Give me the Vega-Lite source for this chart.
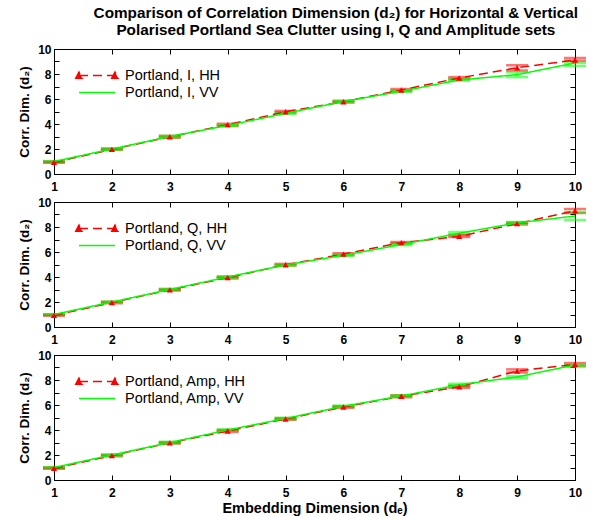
{
  "$schema": "https://vega.github.io/schema/vega-lite/v6.json",
  "padding": {"left": 17, "top": 6, "right": 2, "bottom": 2},
  "title": {
    "text": ["Comparison of Correlation Dimension (d₂) for Horizontal & Vertical", "Polarised Portland Sea Clutter using I, Q and Amplitude sets"],
    "font": "Liberation Sans", "fontSize": 15.3, "fontWeight": "bold", "anchor": "middle", "lineHeight": 17, "offset": 4, "dx": 34
  },
  "config": {
    "view": {"stroke": "black", "strokeWidth": 1},
    "scale": {"continuousPadding": 0},
    "axis": {"labelFont": "Liberation Sans", "labelFontWeight": "bold", "labelFontSize": 12, "labelColor": "black",
      "titleFont": "Liberation Sans", "titleFontWeight": "bold", "titleFontSize": 13.5, "titleColor": "black",
      "domainColor": "black", "tickColor": "black", "grid": false, "tickSize": -5, "labelPadding": 8, "labelFlush": false},
    "axisX": {"labelPadding": 12, "titleFontSize": 14.5, "labelFlush": false},
    "legend": {"labelFont": "Liberation Sans", "labelFontSize": 14.5, "labelColor": "black", "symbolSize": 361, "symbolStrokeWidth": 1.5, "rowPadding": 0, "labelOffset": 34}
  },
  "data": {"values": [
    {"set":"I","pol":"HH","x":1,"y":0.93,"lo":0.9,"hi":1.0},
    {"set":"I","pol":"HH","x":2,"y":1.97,"lo":1.93,"hi":2.03},
    {"set":"I","pol":"HH","x":3,"y":2.97,"lo":2.9,"hi":3.05},
    {"set":"I","pol":"HH","x":4,"y":3.95,"lo":3.85,"hi":4.02},
    {"set":"I","pol":"HH","x":5,"y":4.98,"lo":4.92,"hi":5.05},
    {"set":"I","pol":"HH","x":6,"y":5.78,"lo":5.72,"hi":5.85},
    {"set":"I","pol":"HH","x":7,"y":6.72,"lo":6.65,"hi":6.8},
    {"set":"I","pol":"HH","x":8,"y":7.68,"lo":7.6,"hi":7.75},
    {"set":"I","pol":"HH","x":9,"y":8.5,"lo":8.28,"hi":8.7},
    {"set":"I","pol":"HH","x":10,"y":9.12,"lo":9.05,"hi":9.28},
    {"set":"I","pol":"VV","x":1,"y":1.0,"lo":0.97,"hi":1.03},
    {"set":"I","pol":"VV","x":2,"y":2.0,"lo":1.95,"hi":2.03},
    {"set":"I","pol":"VV","x":3,"y":3.0,"lo":2.95,"hi":3.05},
    {"set":"I","pol":"VV","x":4,"y":3.88,"lo":3.83,"hi":3.93},
    {"set":"I","pol":"VV","x":5,"y":4.85,"lo":4.8,"hi":4.9},
    {"set":"I","pol":"VV","x":6,"y":5.8,"lo":5.75,"hi":5.85},
    {"set":"I","pol":"VV","x":7,"y":6.62,"lo":6.57,"hi":6.67},
    {"set":"I","pol":"VV","x":8,"y":7.52,"lo":7.47,"hi":7.57},
    {"set":"I","pol":"VV","x":9,"y":7.95,"lo":7.75,"hi":8.15},
    {"set":"I","pol":"VV","x":10,"y":8.88,"lo":8.65,"hi":8.9},
    {"set":"Q","pol":"HH","x":1,"y":0.93,"lo":0.9,"hi":1.0},
    {"set":"Q","pol":"HH","x":2,"y":1.95,"lo":1.9,"hi":2.02},
    {"set":"Q","pol":"HH","x":3,"y":2.97,"lo":2.92,"hi":3.03},
    {"set":"Q","pol":"HH","x":4,"y":3.95,"lo":3.88,"hi":4.02},
    {"set":"Q","pol":"HH","x":5,"y":4.98,"lo":4.92,"hi":5.05},
    {"set":"Q","pol":"HH","x":6,"y":5.83,"lo":5.75,"hi":5.9},
    {"set":"Q","pol":"HH","x":7,"y":6.75,"lo":6.7,"hi":6.8},
    {"set":"Q","pol":"HH","x":8,"y":7.25,"lo":7.2,"hi":7.35},
    {"set":"Q","pol":"HH","x":9,"y":8.27,"lo":8.2,"hi":8.35},
    {"set":"Q","pol":"HH","x":10,"y":9.3,"lo":9.12,"hi":9.44},
    {"set":"Q","pol":"VV","x":1,"y":1.0,"lo":0.97,"hi":1.03},
    {"set":"Q","pol":"VV","x":2,"y":2.0,"lo":1.95,"hi":2.03},
    {"set":"Q","pol":"VV","x":3,"y":3.0,"lo":2.95,"hi":3.05},
    {"set":"Q","pol":"VV","x":4,"y":4.0,"lo":3.95,"hi":4.05},
    {"set":"Q","pol":"VV","x":5,"y":4.97,"lo":4.92,"hi":5.02},
    {"set":"Q","pol":"VV","x":6,"y":5.73,"lo":5.68,"hi":5.78},
    {"set":"Q","pol":"VV","x":7,"y":6.6,"lo":6.55,"hi":6.65},
    {"set":"Q","pol":"VV","x":8,"y":7.5,"lo":7.42,"hi":7.6},
    {"set":"Q","pol":"VV","x":9,"y":8.33,"lo":8.27,"hi":8.4},
    {"set":"Q","pol":"VV","x":10,"y":8.88,"lo":8.56,"hi":9.2},
    {"set":"Amp","pol":"HH","x":1,"y":0.93,"lo":0.9,"hi":1.0},
    {"set":"Amp","pol":"HH","x":2,"y":1.95,"lo":1.9,"hi":2.02},
    {"set":"Amp","pol":"HH","x":3,"y":2.97,"lo":2.92,"hi":3.03},
    {"set":"Amp","pol":"HH","x":4,"y":3.92,"lo":3.85,"hi":4.0},
    {"set":"Amp","pol":"HH","x":5,"y":4.88,"lo":4.82,"hi":4.95},
    {"set":"Amp","pol":"HH","x":6,"y":5.84,"lo":5.78,"hi":5.9},
    {"set":"Amp","pol":"HH","x":7,"y":6.7,"lo":6.62,"hi":6.78},
    {"set":"Amp","pol":"HH","x":8,"y":7.45,"lo":7.38,"hi":7.52},
    {"set":"Amp","pol":"HH","x":9,"y":8.72,"lo":8.6,"hi":8.85},
    {"set":"Amp","pol":"HH","x":10,"y":9.25,"lo":9.15,"hi":9.35},
    {"set":"Amp","pol":"VV","x":1,"y":1.0,"lo":0.97,"hi":1.03},
    {"set":"Amp","pol":"VV","x":2,"y":2.0,"lo":1.95,"hi":2.03},
    {"set":"Amp","pol":"VV","x":3,"y":3.0,"lo":2.95,"hi":3.05},
    {"set":"Amp","pol":"VV","x":4,"y":4.0,"lo":3.95,"hi":4.05},
    {"set":"Amp","pol":"VV","x":5,"y":4.92,"lo":4.87,"hi":4.97},
    {"set":"Amp","pol":"VV","x":6,"y":5.9,"lo":5.85,"hi":5.95},
    {"set":"Amp","pol":"VV","x":7,"y":6.72,"lo":6.67,"hi":6.77},
    {"set":"Amp","pol":"VV","x":8,"y":7.62,"lo":7.55,"hi":7.7},
    {"set":"Amp","pol":"VV","x":9,"y":8.25,"lo":8.12,"hi":8.3},
    {"set":"Amp","pol":"VV","x":10,"y":9.2,"lo":9.05,"hi":9.25}
  ]},
  "transform": [{"calculate": "'Portland, ' + datum.set + ', ' + datum.pol", "as": "series"}],
  "spacing": 2,
  "resolve": {"scale": {"color": "independent", "strokeDash": "independent"}, "legend": {"color": "independent", "strokeDash": "independent"}},
  "vconcat": [
    {
      "width": 521, "height": 125,
      "transform": [{"filter": "datum.set == 'I'"}],
      "resolve": {"axis": {"x": "independent", "y": "independent"}},
      "layer": [
        {"mark": {"type": "rule", "strokeWidth": 1, "opacity": 0.6},
         "encoding": {"x": {"field": "x", "type": "quantitative", "scale": {"domain": [1, 10], "nice": false, "padding": 0},
             "axis": {"values": [1,2,3,4,5,6,7,8,9,10], "title": null, "format": "d"}},
           "y": {"field": "lo", "type": "quantitative", "scale": {"domain": [0, 10], "nice": false, "padding": 0},
             "axis": {"values": [0,1,2,3,4,5,6,7,8,9,10], "labelExpr": "datum.value % 2 == 0 ? datum.label : ''", "title": "Corr. Dim. (d₂)", "titlePadding": 6}},
           "y2": {"field": "hi"},
           "color": {"condition": {"test": "datum.pol == 'HH'", "value": "#ff0000"}, "value": "#00ff00"}}},
        {"mark": {"type": "tick", "orient": "horizontal", "size": 22, "thickness": 2.5, "opacity": 0.55},
         "encoding": {"x": {"field": "x", "type": "quantitative",
             "axis": {"orient": "top", "values": [1,2,3,4,5,6,7,8,9,10], "labels": false, "title": null, "domain": false}},
           "y": {"field": "lo", "type": "quantitative",
             "axis": {"orient": "right", "values": [0,1,2,3,4,5,6,7,8,9,10], "labels": false, "title": null, "domain": false}},
           "color": {"condition": {"test": "datum.pol == 'HH'", "value": "#ff0000"}, "value": "#00ff00"}}},
        {"mark": {"type": "tick", "orient": "horizontal", "size": 22, "thickness": 2.5, "opacity": 0.55},
         "encoding": {"x": {"field": "x", "type": "quantitative", "axis": null}, "y": {"field": "hi", "type": "quantitative", "axis": null},
           "color": {"condition": {"test": "datum.pol == 'HH'", "value": "#ff0000"}, "value": "#00ff00"}}},
        {"mark": {"type": "line", "strokeWidth": 1.5},
         "encoding": {"x": {"field": "x", "type": "quantitative", "axis": null}, "y": {"field": "y", "type": "quantitative", "axis": null},
           "color": {"field": "series", "type": "nominal", "scale": {"domain": ["Portland, I, HH", "Portland, I, VV"], "range": ["#ff0000", "#00ff00"]},
             "legend": {"title": null, "orient": "top-left", "offset": 16,
               "encode": {"symbols": {"update": {
                 "shape": {"signal": "datum.index == 0 ? 'M-0.16,0L3.63,0M-0.5,0.3L-0.16,-0.36L0.18,0.3ZM3.29,0.3L3.63,-0.36L3.97,0.3Z' : 'M-0.16,0L3.63,0'"},
                 "fill": {"signal": "datum.index == 0 ? '#ff0000' : 'transparent'"}}}}}},
           "strokeDash": {"field": "series", "type": "nominal", "scale": {"domain": ["Portland, I, HH", "Portland, I, VV"], "range": [[9, 5], [1, 0]]},
             "legend": {"title": null, "orient": "top-left", "offset": 16}}}},
        {"transform": [{"filter": "datum.pol == 'HH'"}],
         "mark": {"type": "point", "shape": "triangle-up", "filled": true, "color": "#ff0000", "size": 40, "opacity": 1},
         "encoding": {"x": {"field": "x", "type": "quantitative", "axis": null}, "y": {"field": "y", "type": "quantitative", "axis": null}}}
      ]
    },
    {
      "width": 521, "height": 125,
      "transform": [{"filter": "datum.set == 'Q'"}],
      "resolve": {"axis": {"x": "independent", "y": "independent"}},
      "layer": [
        {"mark": {"type": "rule", "strokeWidth": 1, "opacity": 0.6},
         "encoding": {"x": {"field": "x", "type": "quantitative", "scale": {"domain": [1, 10], "nice": false, "padding": 0},
             "axis": {"values": [1,2,3,4,5,6,7,8,9,10], "title": null, "format": "d"}},
           "y": {"field": "lo", "type": "quantitative", "scale": {"domain": [0, 10], "nice": false, "padding": 0},
             "axis": {"values": [0,1,2,3,4,5,6,7,8,9,10], "labelExpr": "datum.value % 2 == 0 ? datum.label : ''", "title": "Corr. Dim. (d₂)", "titlePadding": 6}},
           "y2": {"field": "hi"},
           "color": {"condition": {"test": "datum.pol == 'HH'", "value": "#ff0000"}, "value": "#00ff00"}}},
        {"mark": {"type": "tick", "orient": "horizontal", "size": 22, "thickness": 2.5, "opacity": 0.55},
         "encoding": {"x": {"field": "x", "type": "quantitative",
             "axis": {"orient": "top", "values": [1,2,3,4,5,6,7,8,9,10], "labels": false, "title": null, "domain": false}},
           "y": {"field": "lo", "type": "quantitative",
             "axis": {"orient": "right", "values": [0,1,2,3,4,5,6,7,8,9,10], "labels": false, "title": null, "domain": false}},
           "color": {"condition": {"test": "datum.pol == 'HH'", "value": "#ff0000"}, "value": "#00ff00"}}},
        {"mark": {"type": "tick", "orient": "horizontal", "size": 22, "thickness": 2.5, "opacity": 0.55},
         "encoding": {"x": {"field": "x", "type": "quantitative", "axis": null}, "y": {"field": "hi", "type": "quantitative", "axis": null},
           "color": {"condition": {"test": "datum.pol == 'HH'", "value": "#ff0000"}, "value": "#00ff00"}}},
        {"mark": {"type": "line", "strokeWidth": 1.5},
         "encoding": {"x": {"field": "x", "type": "quantitative", "axis": null}, "y": {"field": "y", "type": "quantitative", "axis": null},
           "color": {"field": "series", "type": "nominal", "scale": {"domain": ["Portland, Q, HH", "Portland, Q, VV"], "range": ["#ff0000", "#00ff00"]},
             "legend": {"title": null, "orient": "top-left", "offset": 16,
               "encode": {"symbols": {"update": {
                 "shape": {"signal": "datum.index == 0 ? 'M-0.16,0L3.63,0M-0.5,0.3L-0.16,-0.36L0.18,0.3ZM3.29,0.3L3.63,-0.36L3.97,0.3Z' : 'M-0.16,0L3.63,0'"},
                 "fill": {"signal": "datum.index == 0 ? '#ff0000' : 'transparent'"}}}}}},
           "strokeDash": {"field": "series", "type": "nominal", "scale": {"domain": ["Portland, Q, HH", "Portland, Q, VV"], "range": [[9, 5], [1, 0]]},
             "legend": {"title": null, "orient": "top-left", "offset": 16}}}},
        {"transform": [{"filter": "datum.pol == 'HH'"}],
         "mark": {"type": "point", "shape": "triangle-up", "filled": true, "color": "#ff0000", "size": 40, "opacity": 1},
         "encoding": {"x": {"field": "x", "type": "quantitative", "axis": null}, "y": {"field": "y", "type": "quantitative", "axis": null}}}
      ]
    },
    {
      "width": 521, "height": 125,
      "transform": [{"filter": "datum.set == 'Amp'"}],
      "resolve": {"axis": {"x": "independent", "y": "independent"}},
      "layer": [
        {"mark": {"type": "rule", "strokeWidth": 1, "opacity": 0.6},
         "encoding": {"x": {"field": "x", "type": "quantitative", "scale": {"domain": [1, 10], "nice": false, "padding": 0},
             "axis": {"values": [1,2,3,4,5,6,7,8,9,10], "title": "Embedding Dimension (dₑ)", "format": "d", "titlePadding": 3}},
           "y": {"field": "lo", "type": "quantitative", "scale": {"domain": [0, 10], "nice": false, "padding": 0},
             "axis": {"values": [0,1,2,3,4,5,6,7,8,9,10], "labelExpr": "datum.value % 2 == 0 ? datum.label : ''", "title": "Corr. Dim. (d₂)", "titlePadding": 6}},
           "y2": {"field": "hi"},
           "color": {"condition": {"test": "datum.pol == 'HH'", "value": "#ff0000"}, "value": "#00ff00"}}},
        {"mark": {"type": "tick", "orient": "horizontal", "size": 22, "thickness": 2.5, "opacity": 0.55},
         "encoding": {"x": {"field": "x", "type": "quantitative",
             "axis": {"orient": "top", "values": [1,2,3,4,5,6,7,8,9,10], "labels": false, "title": null, "domain": false}},
           "y": {"field": "lo", "type": "quantitative",
             "axis": {"orient": "right", "values": [0,1,2,3,4,5,6,7,8,9,10], "labels": false, "title": null, "domain": false}},
           "color": {"condition": {"test": "datum.pol == 'HH'", "value": "#ff0000"}, "value": "#00ff00"}}},
        {"mark": {"type": "tick", "orient": "horizontal", "size": 22, "thickness": 2.5, "opacity": 0.55},
         "encoding": {"x": {"field": "x", "type": "quantitative", "axis": null}, "y": {"field": "hi", "type": "quantitative", "axis": null},
           "color": {"condition": {"test": "datum.pol == 'HH'", "value": "#ff0000"}, "value": "#00ff00"}}},
        {"mark": {"type": "line", "strokeWidth": 1.5},
         "encoding": {"x": {"field": "x", "type": "quantitative", "axis": null}, "y": {"field": "y", "type": "quantitative", "axis": null},
           "color": {"field": "series", "type": "nominal", "scale": {"domain": ["Portland, Amp, HH", "Portland, Amp, VV"], "range": ["#ff0000", "#00ff00"]},
             "legend": {"title": null, "orient": "top-left", "offset": 16,
               "encode": {"symbols": {"update": {
                 "shape": {"signal": "datum.index == 0 ? 'M-0.16,0L3.63,0M-0.5,0.3L-0.16,-0.36L0.18,0.3ZM3.29,0.3L3.63,-0.36L3.97,0.3Z' : 'M-0.16,0L3.63,0'"},
                 "fill": {"signal": "datum.index == 0 ? '#ff0000' : 'transparent'"}}}}}},
           "strokeDash": {"field": "series", "type": "nominal", "scale": {"domain": ["Portland, Amp, HH", "Portland, Amp, VV"], "range": [[9, 5], [1, 0]]},
             "legend": {"title": null, "orient": "top-left", "offset": 16}}}},
        {"transform": [{"filter": "datum.pol == 'HH'"}],
         "mark": {"type": "point", "shape": "triangle-up", "filled": true, "color": "#ff0000", "size": 40, "opacity": 1},
         "encoding": {"x": {"field": "x", "type": "quantitative", "axis": null}, "y": {"field": "y", "type": "quantitative", "axis": null}}}
      ]
    }
  ]
}
